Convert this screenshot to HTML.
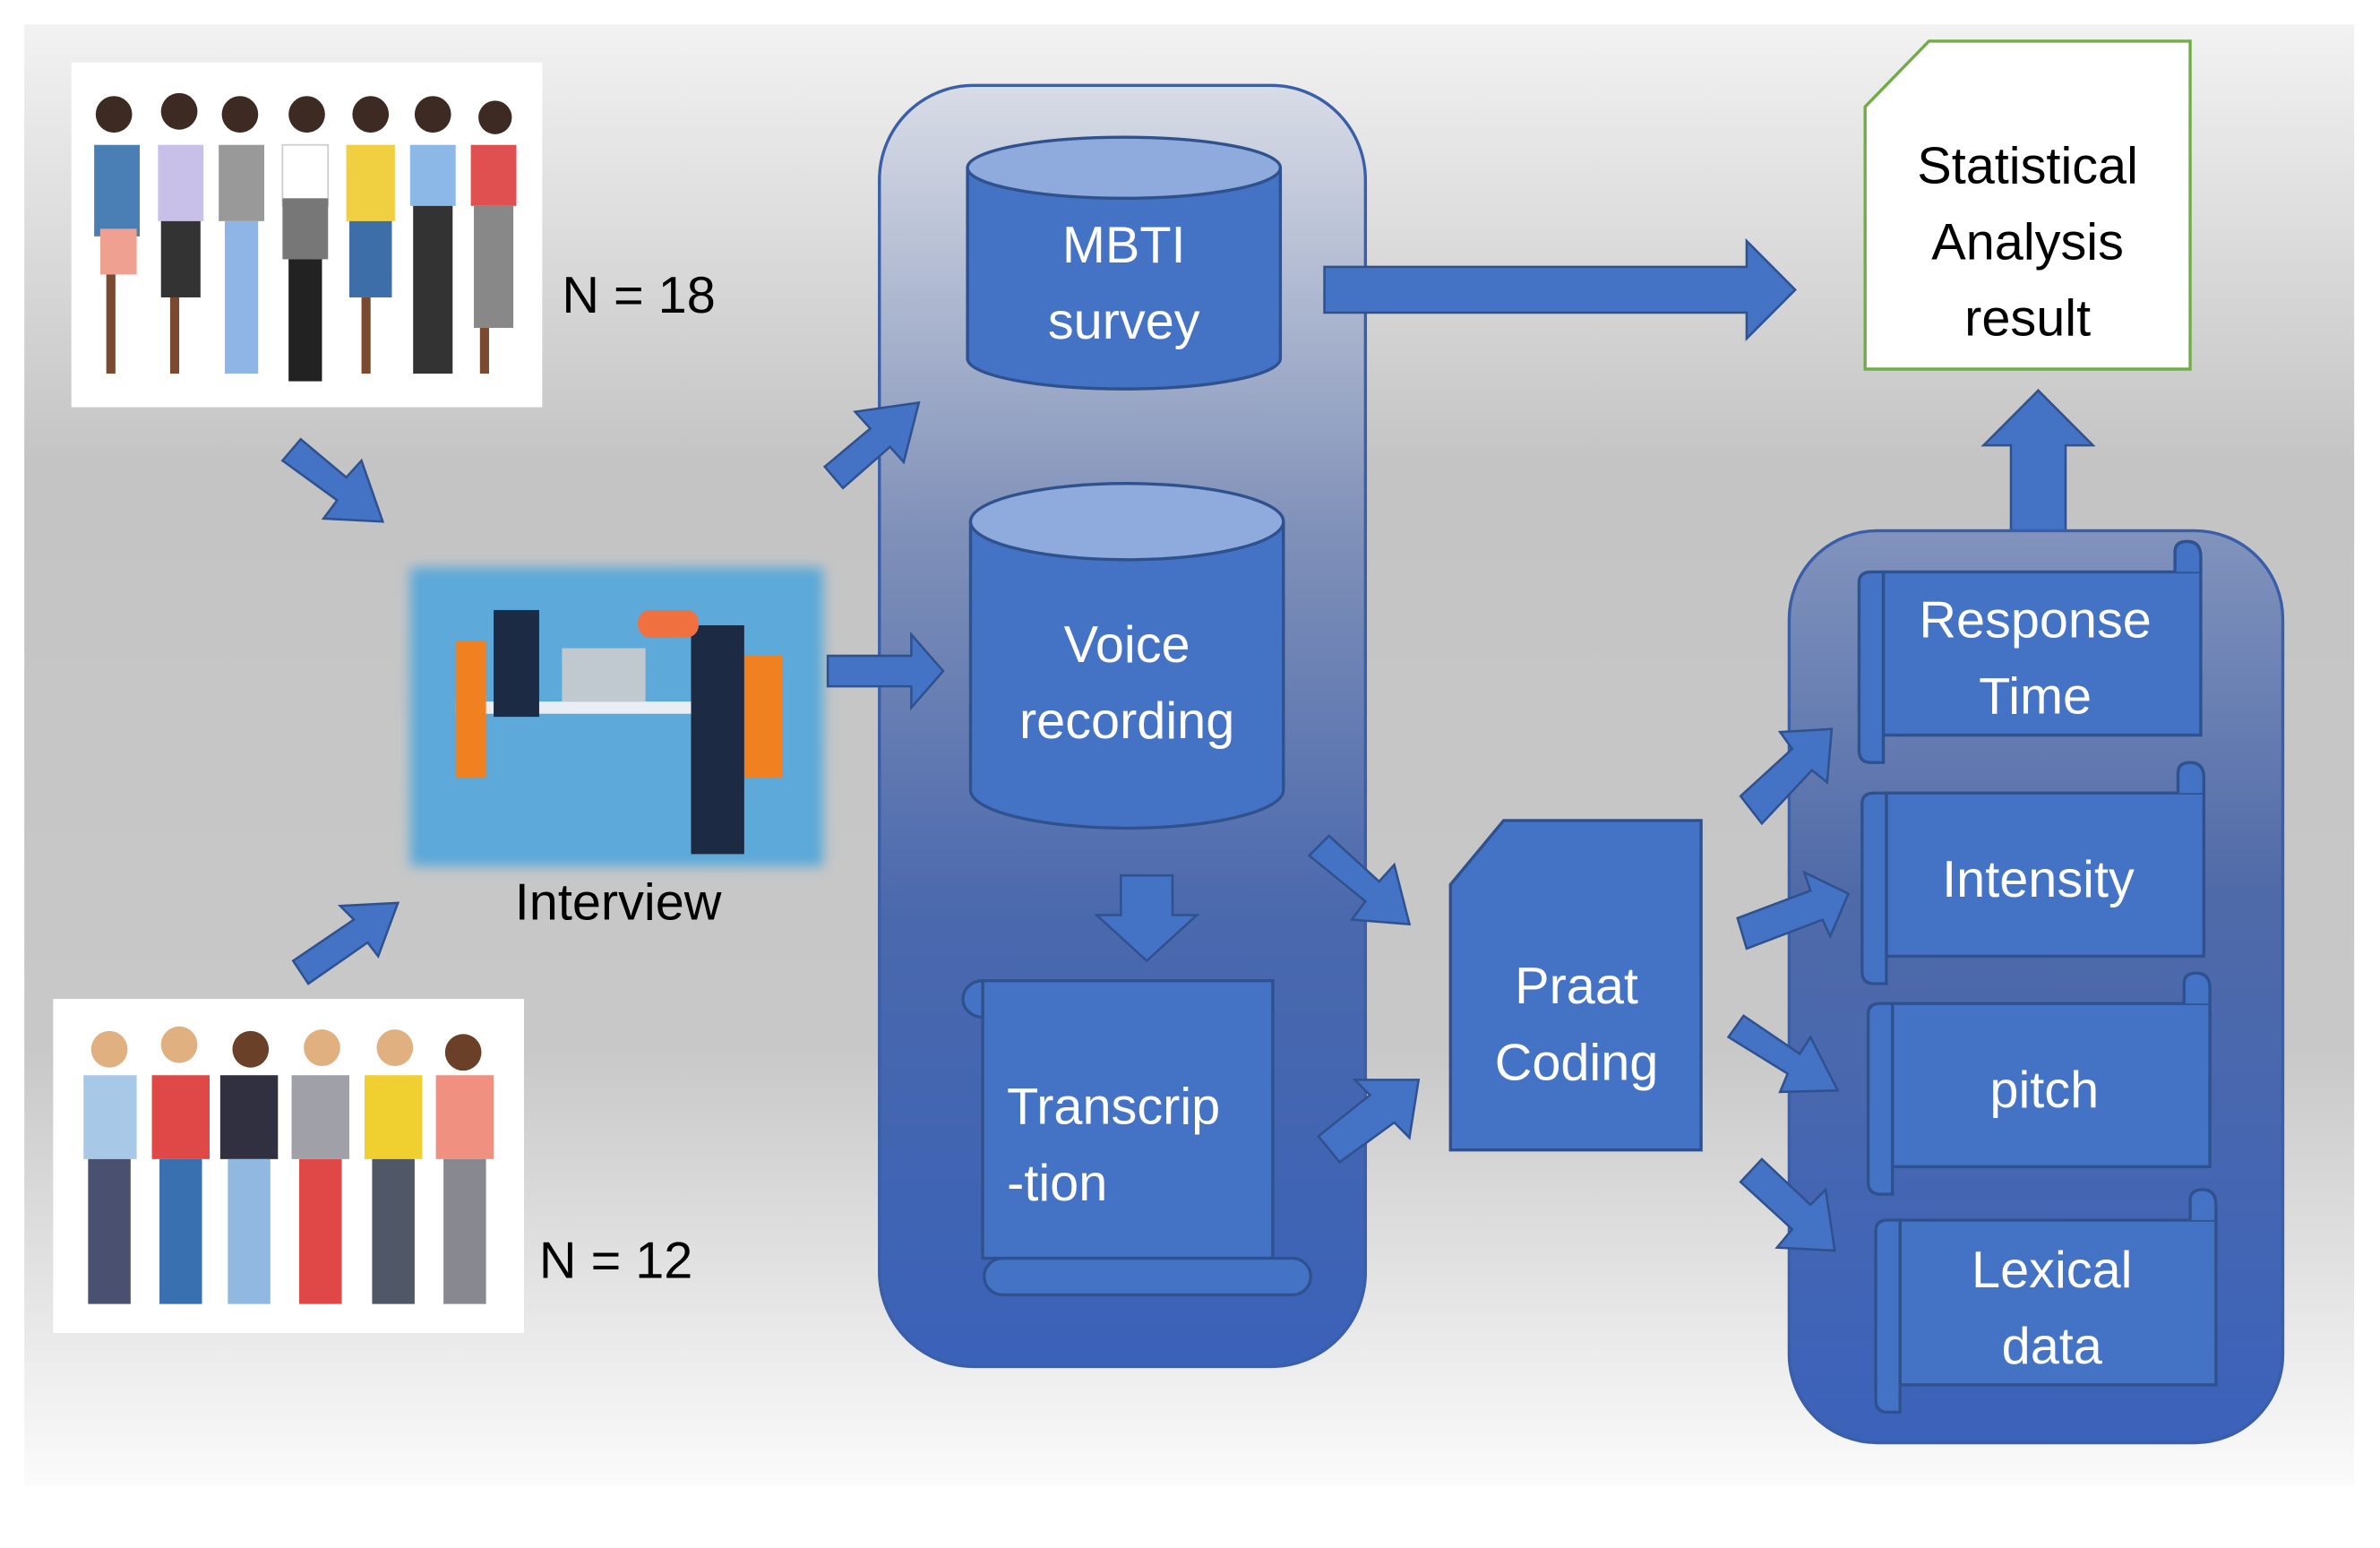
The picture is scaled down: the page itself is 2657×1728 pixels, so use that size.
<!DOCTYPE html>
<html><head><meta charset="utf-8"><style>
html,body{margin:0;padding:0;background:#fff;}
svg{display:block;}
text{font-family:"Liberation Sans","DejaVu Sans",sans-serif;}
</style></head><body>
<svg width="2657" height="1728" viewBox="0 0 1567 1015" preserveAspectRatio="none" xmlns="http://www.w3.org/2000/svg">
<defs>
<linearGradient id="bg" x1="0" y1="0" x2="0" y2="1">
<stop offset="0" stop-color="#f2f2f2"/><stop offset="0.3" stop-color="#c4c4c4"/><stop offset="0.7" stop-color="#c8c8c8"/><stop offset="1" stop-color="#fbfbfb"/>
</linearGradient>
<linearGradient id="col" x1="0" y1="0" x2="0" y2="1">
<stop offset="0" stop-color="#d8dce6"/><stop offset="0.35" stop-color="#7f90b8"/><stop offset="0.65" stop-color="#4a68ad"/><stop offset="1" stop-color="#3a62b8"/>
</linearGradient>
<linearGradient id="col2" x1="0" y1="0" x2="0" y2="1">
<stop offset="0" stop-color="#8193bd"/><stop offset="0.4" stop-color="#4f6aa8"/><stop offset="1" stop-color="#3b62bb"/>
</linearGradient>
<filter id="blur"><feGaussianBlur stdDeviation="4"/></filter>
</defs>
<rect x="16" y="16" width="1534" height="958" fill="url(#bg)"/>

<rect x="47" y="41" width="310" height="226" fill="#fff"/>
<g>
<g fill="#3d2a22"><circle cx="75" cy="75" r="12"/><circle cx="118" cy="73" r="12"/><circle cx="158" cy="75" r="12"/><circle cx="202" cy="75" r="12"/><circle cx="244" cy="75" r="12"/><circle cx="285" cy="75" r="12"/><circle cx="326" cy="77" r="11"/></g>
<rect x="62" y="95" width="30" height="60" fill="#4a7fb5"/><rect x="66" y="150" width="24" height="30" fill="#f0a090"/>
<rect x="104" y="95" width="30" height="50" fill="#c8c0e8"/><rect x="106" y="145" width="26" height="50" fill="#333"/>
<rect x="144" y="95" width="30" height="50" fill="#999"/><rect x="148" y="145" width="22" height="100" fill="#8fb4e6"/>
<rect x="186" y="95" width="30" height="40" fill="#fff" stroke="#ccc"/><rect x="186" y="130" width="30" height="40" fill="#777"/><rect x="190" y="170" width="22" height="80" fill="#222"/>
<rect x="228" y="95" width="32" height="50" fill="#f0d040"/><rect x="230" y="145" width="28" height="50" fill="#3d6ea8"/>
<rect x="270" y="95" width="30" height="40" fill="#8cb8e8"/><rect x="272" y="135" width="26" height="110" fill="#333"/>
<rect x="310" y="95" width="30" height="40" fill="#e05050"/><rect x="312" y="135" width="26" height="80" fill="#888"/>
<g fill="#7a4a30"><rect x="70" y="180" width="6" height="65"/><rect x="112" y="195" width="6" height="50"/><rect x="238" y="195" width="6" height="50"/><rect x="316" y="215" width="6" height="30"/></g>
</g>
<text x="370" y="205" font-size="34" fill="#000">N = 18</text>

<rect x="35" y="655" width="310" height="219" fill="#fff"/>
<g>
<g fill="#e0b080"><circle cx="72" cy="688" r="12"/><circle cx="118" cy="685" r="12"/><circle cx="212" cy="687" r="12"/><circle cx="260" cy="687" r="12"/></g>
<g fill="#6a4028"><circle cx="165" cy="688" r="12"/><circle cx="305" cy="690" r="12"/></g>
<rect x="55" y="705" width="35" height="55" fill="#a8c8e8"/><rect x="58" y="760" width="28" height="95" fill="#4a5070"/>
<rect x="100" y="705" width="38" height="55" fill="#e04848"/><rect x="105" y="760" width="28" height="95" fill="#3870b0"/>
<rect x="145" y="705" width="38" height="55" fill="#303040"/><rect x="150" y="760" width="28" height="95" fill="#90b8e0"/>
<rect x="192" y="705" width="38" height="55" fill="#a0a0a8"/><rect x="197" y="760" width="28" height="95" fill="#e04848"/>
<rect x="240" y="705" width="38" height="55" fill="#f0d030"/><rect x="245" y="760" width="28" height="95" fill="#505868"/>
<rect x="287" y="705" width="38" height="55" fill="#f09080"/><rect x="292" y="760" width="28" height="95" fill="#888890"/>
</g>
<text x="355" y="838" font-size="34" fill="#000">N = 12</text>

<rect x="270" y="372" width="272" height="196" fill="#5aa8d8" filter="url(#blur)"/>
<rect x="278" y="380" width="256" height="180" fill="#5ca9da"/>
<rect x="300" y="460" width="190" height="8" fill="#e8eef4"/>
<rect x="300" y="420" width="20" height="90" fill="#f08020"/><rect x="480" y="430" width="35" height="80" fill="#f08020"/>
<rect x="325" y="400" width="30" height="70" fill="#1c2a44"/><rect x="455" y="410" width="35" height="150" fill="#1c2a44"/>
<rect x="370" y="425" width="55" height="35" fill="#c0c8d0"/>
<rect x="420" y="400" width="40" height="18" rx="8" fill="#f07040"/>
<text x="407" y="603" font-size="34" fill="#000" text-anchor="middle">Interview</text>

<rect x="579" y="56" width="320" height="840" rx="62" fill="url(#col)" stroke="#3a5ea8" stroke-width="2"/>
<path d="M637 110 V235 A103 20 0 0 0 843 235 V110" fill="#4472c4" stroke="#2f528f" stroke-width="2"/>
<ellipse cx="740" cy="110" rx="103" ry="20" fill="#8faadc" stroke="#2f528f" stroke-width="2"/>
<text x="740" y="172" font-size="34" fill="#fff" text-anchor="middle">MBTI</text>
<text x="740" y="222" font-size="34" fill="#fff" text-anchor="middle">survey</text>
<path d="M639 342 V518 A103 25 0 0 0 845 518 V342" fill="#4472c4" stroke="#2f528f" stroke-width="2"/>
<ellipse cx="742" cy="342" rx="103" ry="25" fill="#8faadc" stroke="#2f528f" stroke-width="2"/>
<text x="742" y="434" font-size="34" fill="#fff" text-anchor="middle">Voice</text>
<text x="742" y="484" font-size="34" fill="#fff" text-anchor="middle">recording</text>
<polygon points="738,574 772,574 772,600 788,600 755,630 722,600 738,600" fill="#4472c4" stroke="#2f528f" stroke-width="1.5"/>
<path d="M647 643 H838 V825 H647 Z" fill="#4472c4" stroke="#2f528f" stroke-width="2"/>
<path d="M647 643 A13 12 0 0 0 634 655 A13 12 0 0 0 647 667 Z" fill="#4472c4" stroke="#2f528f" stroke-width="2"/>
<rect x="648" y="825" width="215" height="24" rx="12" fill="#4472c4" stroke="#2f528f" stroke-width="2"/>
<text x="663" y="737" font-size="34" fill="#fff">Transcrip</text>
<text x="663" y="787" font-size="34" fill="#fff">-tion</text>

<g fill="#4472c4" stroke="#2f528f" stroke-width="1.5">
<polygon points="872,175 1150,175 1150,158 1182,190 1150,222 1150,205 872,205"/>
<polygon points="186,302 198,288 228,313 238,302 252,342 213,340 222,328"/>
<polygon points="543,306 573,281 563,270 605,264 595,303 586,293 555,320"/>
<polygon points="545,430 600,430 600,416 621,440 600,464 600,450 545,450"/>
<polygon points="193,630 233,603 224,594 262,592 249,627 242,618 203,645"/>
<polygon points="862,561 875,548 908,578 918,567 928,606 890,603 899,591"/>
<polygon points="868,745 902,718 892,708 934,708 928,746 918,736 882,762"/>
<polygon points="1324,372 1324,292 1306,292 1342,256 1378,292 1360,292 1360,372"/>
</g>

<polygon points="990,538 1120,538 1120,754 955,754 955,580" fill="#4472c4" stroke="#2f528f" stroke-width="2"/>
<text x="1038" y="658" font-size="34" fill="#fff" text-anchor="middle">Praat</text>
<text x="1038" y="708" font-size="34" fill="#fff" text-anchor="middle">Coding</text>

<polygon points="1270,27 1442,27 1442,242 1228,242 1228,70" fill="#fff" stroke="#70ad47" stroke-width="2"/>
<text x="1335" y="120" font-size="34" fill="#000" text-anchor="middle">Statistical</text>
<text x="1335" y="170" font-size="34" fill="#000" text-anchor="middle">Analysis</text>
<text x="1335" y="220" font-size="34" fill="#000" text-anchor="middle">result</text>

<rect x="1178" y="348" width="325" height="598" rx="58" fill="url(#col2)" stroke="#3a5ea8" stroke-width="2"/>
<g fill="#4472c4" stroke="#2f528f" stroke-width="1.5">
<polygon points="1146,522 1180,491 1172,480 1206,478 1203,513 1193,505 1160,540"/>
<polygon points="1144,602 1192,584 1188,572 1217,586 1205,614 1200,603 1150,622"/>
<polygon points="1138,680 1148,666 1185,691 1192,680 1210,715 1172,716 1177,704"/>
<polygon points="1146,775 1160,760 1192,790 1202,780 1208,820 1170,818 1180,806"/>
</g>
<g fill="#4472c4" stroke="#2f528f" stroke-width="2">
<rect x="1240" y="375" width="209" height="107"/><path d="M1224 382 Q1224 375 1232 375 H1240 V500 H1232 Q1224 500 1224 492 Z"/><path d="M1432 375 V362 Q1432 355 1440 355 Q1449 355 1449 365 V375"/>
<rect x="1242" y="520" width="209" height="107"/><path d="M1226 527 Q1226 520 1234 520 H1242 V645 H1234 Q1226 645 1226 637 Z"/><path d="M1434 520 V507 Q1434 500 1442 500 Q1451 500 1451 510 V520"/>
<rect x="1246" y="658" width="209" height="107"/><path d="M1230 665 Q1230 658 1238 658 H1246 V783 H1238 Q1230 783 1230 775 Z"/><path d="M1438 658 V645 Q1438 638 1446 638 Q1455 638 1455 648 V658"/>
<rect x="1251" y="800" width="208" height="108"/><path d="M1235 807 Q1235 800 1243 800 H1251 V926 H1243 Q1235 926 1235 918 Z"/><path d="M1442 800 V787 Q1442 780 1450 780 Q1459 780 1459 790 V800"/>
</g>
<text x="1340" y="418" font-size="34" fill="#fff" text-anchor="middle">Response</text>
<text x="1340" y="468" font-size="34" fill="#fff" text-anchor="middle">Time</text>
<text x="1342" y="588" font-size="34" fill="#fff" text-anchor="middle">Intensity</text>
<text x="1346" y="726" font-size="34" fill="#fff" text-anchor="middle">pitch</text>
<text x="1351" y="844" font-size="34" fill="#fff" text-anchor="middle">Lexical</text>
<text x="1351" y="894" font-size="34" fill="#fff" text-anchor="middle">data</text>
</svg>
</body></html>
